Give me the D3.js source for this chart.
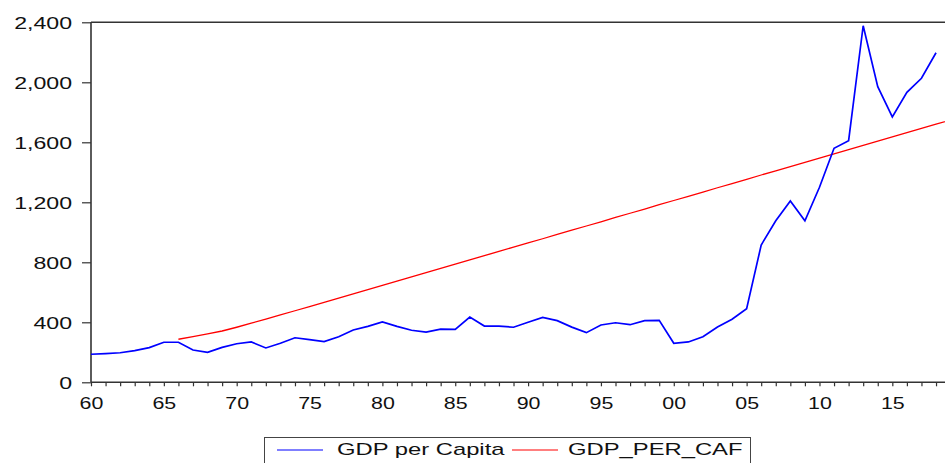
<!DOCTYPE html>
<html>
<head>
<meta charset="utf-8">
<script src="https://cdn.jsdelivr.net/npm/d3@7"></script>
<style>
  html, body { margin: 0; padding: 0; background: #fff; }
  svg { display: block; }
  text { font-family: "Liberation Sans", Arial, Helvetica, sans-serif; fill: #111; }
</style>
</head>
<body>
<svg id="chart" width="945" height="463"></svg>
<script>
// ---- data ----
const years = d3.range(1960, 2019); // 1960..2018
const gdpPerCapita = [
  187, 191, 197, 211, 231, 267, 267, 215, 200, 233,
  257, 269, 229, 260, 297, 284, 271, 304, 349, 373,
  402, 373, 347, 335, 355, 353, 435, 375, 375, 367,
  400, 433, 411, 368, 331, 382, 397, 384, 411, 413,
  260, 269, 304, 369, 420, 491, 915, 1077, 1209, 1077,
  1300, 1560, 1611, 2377, 1971, 1769, 1933, 2027, 2197
];
const cafYears = d3.range(1966, 2020); // 1966..2019
const gdpPerCaf = [
  287, 305, 323, 342, 367, 394, 421, 449, 477, 505,
  533, 561, 590, 618, 646, 675, 703, 731, 759, 788,
  816, 844, 873, 901, 929, 957, 986, 1014, 1042, 1070,
  1099, 1127, 1155, 1184, 1212, 1240, 1268, 1297, 1325, 1353,
  1382, 1410, 1438, 1466, 1495, 1523, 1551, 1580, 1608, 1636,
  1664, 1693, 1721, 1749
];
const yTicks = [0, 400, 800, 1200, 1600, 2000, 2400];
const yTickLabels = ["0", "400", "800", "1,200", "1,600", "2,000", "2,400"];
const xLabelYears = [1960, 1965, 1970, 1975, 1980, 1985, 1990, 1995, 2000, 2005, 2010, 2015];
const xTickLabels = ["60", "65", "70", "75", "80", "85", "90", "95", "00", "05", "10", "15"];
const seriesNames = ["GDP per Capita", "GDP_PER_CAF"];
const seriesColors = ["#0000ff", "#ff0000"];

// ---- layout ----
const W = 945, H = 463;
const pLeft = 91, pTop = 22.3, pBottom = 382.3, pRight = 950.6;
const svg = d3.select("#chart");

const x = d3.scaleLinear().domain([1960, 2019]).range([pLeft, pRight]);
const y = d3.scaleLinear().domain([0, 2400]).range([pBottom, pTop]);

svg.append("defs").append("clipPath").attr("id", "plotclip")
  .append("rect").attr("x", pLeft).attr("y", pTop - 2).attr("width", W - pLeft).attr("height", pBottom - pTop + 2);

// top frame line
svg.append("line")
  .attr("x1", pLeft).attr("x2", W).attr("y1", pTop).attr("y2", pTop)
  .attr("stroke", "#333").attr("stroke-width", 1.6);

// x axis
const xAxis = d3.axisBottom(x)
  .tickValues(d3.range(1960, 2019))
  .tickSize(4)
  .tickFormat(d => {
    const i = xLabelYears.indexOf(d);
    return i >= 0 ? xTickLabels[i] : "";
  });
const gx = svg.append("g").attr("transform", `translate(0,${pBottom})`).call(xAxis);
gx.select(".domain").attr("d", `M${pLeft},0H${W}`).attr("stroke", "#333").attr("stroke-width", 1.6);
gx.selectAll(".tick line").attr("stroke", "#333").attr("stroke-width", 1.2);
gx.selectAll(".tick text")
  .attr("y", 0).attr("dy", null)
  .attr("transform", "translate(0,26.5) scale(1.26,1)")
  .style("font-size", "17px").attr("fill", "#111");

// y axis
const yAxis = d3.axisLeft(y)
  .tickValues(yTicks)
  .tickSize(9)
  .tickFormat((d, i) => yTickLabels[i]);
const gy = svg.append("g").attr("transform", `translate(${pLeft},0)`).call(yAxis);
gy.select(".domain").attr("d", `M0,${pBottom}V${pTop}`).attr("stroke", "#333").attr("stroke-width", 1.6);
gy.selectAll(".tick line").attr("stroke", "#333").attr("stroke-width", 1.2);
gy.selectAll(".tick text")
  .attr("x", 0).attr("dy", null)
  .attr("transform", "translate(-19,6) scale(1.36,1)")
  .style("font-size", "17px").attr("fill", "#111");
svg.selectAll(".tick text").style("font-family", '"Liberation Sans", Arial, sans-serif');

// lines
const plot = svg.append("g").attr("clip-path", "url(#plotclip)");
const line = d3.line().x(d => x(d[0])).y(d => y(d[1]));
plot.append("path")
  .datum(cafYears.map((yr, i) => [yr, gdpPerCaf[i]]))
  .attr("d", line).attr("fill", "none")
  .attr("stroke", seriesColors[1]).attr("stroke-width", 1.3);
plot.append("path")
  .datum(years.map((yr, i) => [yr, gdpPerCapita[i]]))
  .attr("d", line).attr("fill", "none")
  .attr("stroke", seriesColors[0]).attr("stroke-width", 1.7)
  .attr("stroke-linejoin", "miter");

// legend
const lg = svg.append("g");
lg.append("rect").attr("x", 264.5).attr("y", 437.5).attr("width", 486).attr("height", 40)
  .attr("fill", "#fff").attr("stroke", "#444").attr("stroke-width", 1);
const legendItems = [
  { lx: 277, tx: 337 },
  { lx: 512, tx: 568 }
];
legendItems.forEach((it, i) => {
  lg.append("line").attr("x1", it.lx).attr("x2", it.lx + 46).attr("y1", 450).attr("y2", 450)
    .attr("stroke", seriesColors[i]).attr("stroke-width", 1.2);
  lg.append("text").text(seriesNames[i])
    .attr("transform", `translate(${it.tx},454.5) scale(1.4,1)`)
    .style("font-size", "17px");
});
</script>
</body>
</html>
